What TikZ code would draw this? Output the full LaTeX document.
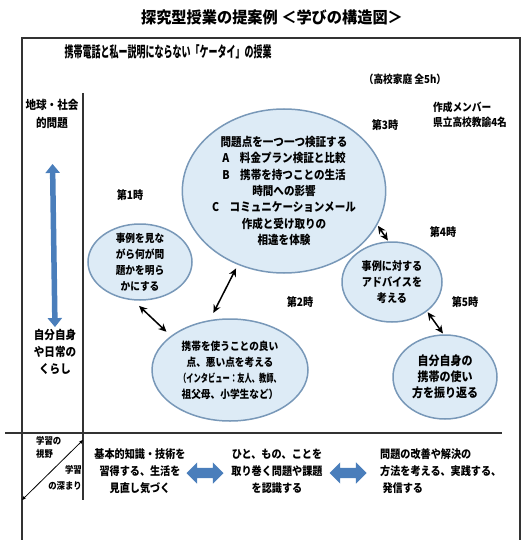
\documentclass[tikz,border=0pt]{standalone}
\usepackage{fontspec}
\setmainfont{Noto Sans CJK JP}[FakeStretch=0.88]
\newfontfamily\jpnarrow{Noto Sans CJK JP}[FakeStretch=0.6]
\newfontfamily\jpmid{Noto Sans CJK JP}[FakeStretch=0.66]
\newfontfamily\jpwide{Noto Sans CJK JP}[FakeStretch=0.95]
\usetikzlibrary{shapes.geometric,shapes.arrows,arrows.meta}
\definecolor{ellfill}{HTML}{DDEBF6}
\definecolor{ellborder}{HTML}{7898B8}
\definecolor{arrowblue}{HTML}{4A7EBB}
\tikzset{
  ell/.style={ellipse, draw=ellborder, fill=ellfill, line width=1.5pt, inner sep=0pt, align=center},
  txt/.style={align=center, inner sep=0pt},
  conn/.style={{Stealth[length=8pt,width=7.5pt]}-{Stealth[length=8pt,width=7.5pt]}, line width=1.5pt, black},
  thinconn/.style={{Stealth[length=4pt,width=3.5pt]}-{Stealth[length=4pt,width=3.5pt]}, line width=0.8pt, black},
  bluearrow/.style={{Triangle[length=9pt,width=14pt]}-{Triangle[length=9pt,width=14pt]}, line width=5.5pt, arrowblue},
  blockarrow/.style={double arrow, fill=arrowblue, draw=none, minimum height=37pt, inner xsep=0pt, inner ysep=5pt, double arrow head extend=5.5pt},
  frame/.style={line width=1.2pt, black!80},
}
\begin{document}
\begin{tikzpicture}[x=1pt,y=-1pt]
\useasboundingbox (0,0) rectangle (526,540);
% frame
\draw[frame] (22,545) -- (22,38) -- (520,38) -- (520,545);
\draw[frame] (83,93) -- (83,500);
\draw[frame] (5,433) -- (502,433);
% titles
\node[txt, font=\jpwide\fontsize{16}{18}\selectfont\bfseries] (title) at (272,17) {探究型授業の提案例 ＜学びの構造図＞};
\node[txt, font=\jpnarrow\fontsize{15}{16}\selectfont\bfseries] (sub) at (168,52) {携帯電話と私ー説明にならない「ケータイ」の授業};
\node[txt, font=\fontsize{11}{13}\selectfont\bfseries] (course) at (405,79) {（高校家庭 全5h）};
\node[txt, align=left, anchor=west, font=\fontsize{11}{15}\selectfont\bfseries] (members) at (433,115) {作成メンバー\\県立高校教諭4名};
% left column
\node[txt, font=\fontsize{12}{18}\selectfont\bfseries] (global) at (52,114) {地球・社会\\的問題};
\node[txt, font=\fontsize{12}{17}\selectfont\bfseries] (self) at (55,352) {自分自身\\や日常の\\くらし};
\draw[bluearrow, shorten <=35pt, shorten >=2pt] (global.south) -- (self.north);
% period labels
\node[txt, font=\fontsize{11.5}{13}\selectfont\bfseries] (p1) at (130,195) {第1時};
\node[txt, font=\fontsize{11.5}{13}\selectfont\bfseries] (p2) at (300,302) {第2時};
\node[txt, font=\fontsize{11.5}{13}\selectfont\bfseries] (p3) at (385,125) {第3時};
\node[txt, font=\fontsize{11.5}{13}\selectfont\bfseries] (p4) at (443,232) {第4時};
\node[txt, font=\fontsize{11.5}{13}\selectfont\bfseries] (p5) at (465,302) {第5時};
% ellipses
\node[ell, minimum width=104pt, minimum height=76pt, inner ysep=-6pt, font=\fontsize{11}{16}\selectfont\bfseries] (e1) at (140,262) {事例を見な\\がら何が問\\題かを明ら\\かにする};
\node[ell, minimum width=156pt, minimum height=102pt, font=\fontsize{11}{16}\selectfont\bfseries] (e2) at (230,370) {携帯を使うことの良い\\点、悪い点を考える\\{\jpmid（インタビュー：友人、教師、}\\祖父母、小学生など）};
\node[ell, minimum width=198pt, minimum height=164pt, font=\fontsize{12}{16.3}\selectfont\bfseries] (e3) at (284,191) {問題点を一つ一つ検証する\\A　料金プラン検証と比較\\B　携帯を持つことの生活\\時間への影響\\C　コミュニケーションメール\\作成と受け取りの\\相違を体験};
\node[ell, minimum width=100pt, minimum height=80pt, font=\fontsize{11.5}{16}\selectfont\bfseries] (e4) at (392,282) {事例に対する\\アドバイスを\\考える};
\node[ell, minimum width=104pt, minimum height=84pt, font=\fontsize{12.5}{16}\selectfont\bfseries] (e5) at (445,377) {自分自身の\\携帯の使い\\方を振り返る};
% connectors between ellipses
\draw[conn, shorten <=8pt, shorten >=6pt] (e1.-100) -- (e2.150);
\draw[conn, shorten <=8pt, shorten >=4pt] (e2.112) -- (e3.-122);
\draw[conn, shorten <=1pt, shorten >=1pt] (e3.-20) -- (e4.95);
\draw[conn, shorten <=1pt, shorten >=1pt] (e4.-40) -- (e5.92);
% bottom row
\coordinate (cellSW) at (22,500);
\coordinate (cellNE) at (83,440);
\draw[thinconn] (cellSW) -- (cellNE);
\node[txt, align=left, anchor=west, font=\fontsize{9.5}{13}\selectfont\bfseries] (scope) at (36,447) {学習の\\視野};
\node[txt, align=right, anchor=east, font=\fontsize{9.5}{16}\selectfont\bfseries] (depth) at (82,478) {学習\\の深まり};
\node[txt, font=\fontsize{11.5}{17}\selectfont\bfseries] (b1) at (140,471) {基本的知識・技術を\\習得する、生活を\\見直し気づく};
\node[txt, font=\fontsize{11.5}{17}\selectfont\bfseries] (b2) at (277,471) {ひと、もの、ことを\\取り巻く問題や課題\\を認識する};
\node[txt, align=left, anchor=west, font=\fontsize{11.5}{17}\selectfont\bfseries] (b3) at (380,471) {問題の改善や解決の\\方法を考える、実践する、\\\ 発信する};
\node[blockarrow] (a12) at (205,473) {};
\node[blockarrow] (a23) at (348,473) {};
\end{tikzpicture}
\end{document}
